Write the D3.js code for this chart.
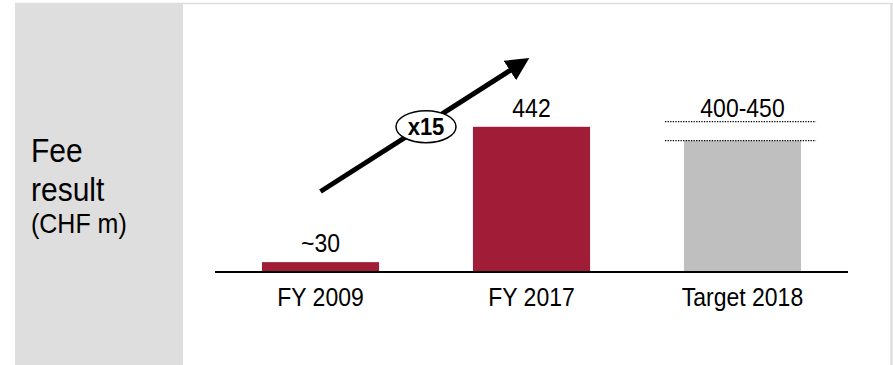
<!DOCTYPE html>
<html>
<head>
<meta charset="utf-8">
<script src="https://cdn.jsdelivr.net/npm/d3@7"></script>
<style>
  html, body { margin: 0; padding: 0; background: #ffffff; }
  svg { display: block; font-family: Arial, "Liberation Sans", sans-serif; }
</style>
</head>
<body>
<svg id="chart" width="893" height="365"></svg>
<script>
// Fee result, CHF m
const categories = ["FY 2009", "FY 2017", "Target 2018"];
const values = [30, 442, 400];
const valueLabels = ["~30", "442", "400-450"];
const rangeBand = [400, 450];          // target range shown with dotted lines
const growthLabel = "x15";
const growthArrow = [245, 655];        // arrow start / end levels on the value axis

const svg = d3.select("#chart");
const W = 893, H = 365;
const STRETCH = 1.1;                   // slightly tall lettering

// text placed at a baseline with a small vertical stretch
function label(g, x, y, txt, size, opts = {}) {
  return g.append("text")
    .attr("transform", `translate(${x},${y}) scale(1,${STRETCH})`)
    .attr("text-anchor", opts.anchor || "start")
    .attr("font-size", size)
    .attr("font-weight", opts.weight || "normal")
    .attr("fill", "#000")
    .text(txt);
}

// frame and left title panel
svg.append("line").attr("x1", 15).attr("x2", W).attr("y1", 3.5).attr("y2", 3.5)
  .attr("stroke", "#dedede").attr("stroke-width", 1.5);
svg.append("line").attr("x1", 891.5).attr("x2", 891.5).attr("y1", 3).attr("y2", H)
  .attr("stroke", "#dedede").attr("stroke-width", 2.5);
svg.append("rect").attr("x", 15).attr("y", 3).attr("width", 168).attr("height", H - 3)
  .attr("fill", "#dedede");

const title = svg.append("g");
label(title, 31, 162, "Fee", 30);
label(title, 31, 200.5, "result", 30);
label(title, 31, 233, "(CHF m)", 25);

// scales
const baseY = 272;
const x = d3.scaleBand().domain(categories).range([215, 848])
  .paddingInner(0.445).paddingOuter(0.2225);
const y = d3.scaleLinear().domain([0, 500]).range([baseY, baseY - 500 * 0.3285]);

const colors = ["#a01c37", "#a01c37", "#bfbfbf"];

// bars
svg.append("g").selectAll("rect").data(categories).join("rect")
  .attr("x", d => x(d))
  .attr("width", x.bandwidth())
  .attr("y", (d, i) => y(values[i]))
  .attr("height", (d, i) => y(0) - y(values[i]))
  .attr("fill", (d, i) => colors[i]);

// value labels
const vl = svg.append("g");
categories.forEach((c, i) => {
  const top = i === 2 ? y(rangeBand[1]) - 7 : y(values[i]) - 10;
  label(vl, x(c) + x.bandwidth() / 2, top, valueLabels[i], 23, { anchor: "middle" });
});

// dotted range lines on the target bar
const tx = x(categories[2]);
svg.append("g").selectAll("line").data(rangeBand).join("line")
  .attr("x1", tx - 19).attr("x2", tx + x.bandwidth() + 15)
  .attr("y1", d => y(d) + (d === rangeBand[1] ? -2.5 : 0))
  .attr("y2", d => y(d) + (d === rangeBand[1] ? -2.5 : 0))
  .attr("stroke", "#000").attr("stroke-width", 1.3)
  .attr("stroke-dasharray", "1.3,1.3");

// baseline
svg.append("line").attr("x1", 215).attr("x2", 848).attr("y1", baseY).attr("y2", baseY)
  .attr("stroke", "#000").attr("stroke-width", 2);

// category axis labels
const xAxis = d3.axisBottom(x).tickSize(0).tickPadding(0);
const ax = svg.append("g").attr("transform", `translate(0,${baseY})`).call(xAxis);
ax.select(".domain").remove();
ax.selectAll("text")
  .attr("font-family", "Arial, 'Liberation Sans', sans-serif")
  .attr("font-size", 23).attr("fill", "#000")
  .attr("dy", null).attr("y", 0)
  .attr("transform", `translate(0,34) scale(1,${STRETCH})`);

// growth arrow
const ax0 = x(categories[0]) + x.bandwidth() / 2, ay0 = y(growthArrow[0]);
const ax1 = x(categories[1]) + x.bandwidth() / 2, ay1 = y(growthArrow[1]);
svg.append("defs").append("marker")
  .attr("id", "head").attr("viewBox", "0 0 10 10")
  .attr("refX", 7).attr("refY", 5)
  .attr("markerWidth", 4.6).attr("markerHeight", 4.6)
  .attr("markerUnits", "strokeWidth")
  .attr("orient", "auto")
  .append("path").attr("d", "M0,0 L10,5 L0,10 z").attr("fill", "#000");
svg.append("line")
  .attr("x1", ax0).attr("y1", ay0).attr("x2", ax1 - 8).attr("y2", ay1 + 5)
  .attr("stroke", "#000").attr("stroke-width", 5)
  .attr("marker-end", "url(#head)");

const mx = (ax0 + ax1) / 2, my = (ay0 + ay1) / 2 + 2.5;
svg.append("ellipse").attr("cx", mx).attr("cy", my).attr("rx", 30).attr("ry", 16)
  .attr("fill", "#fff").attr("stroke", "#000").attr("stroke-width", 1.5);
label(svg, mx, my + 8, growthLabel, 22, { anchor: "middle", weight: "bold" });
</script>
</body>
</html>
